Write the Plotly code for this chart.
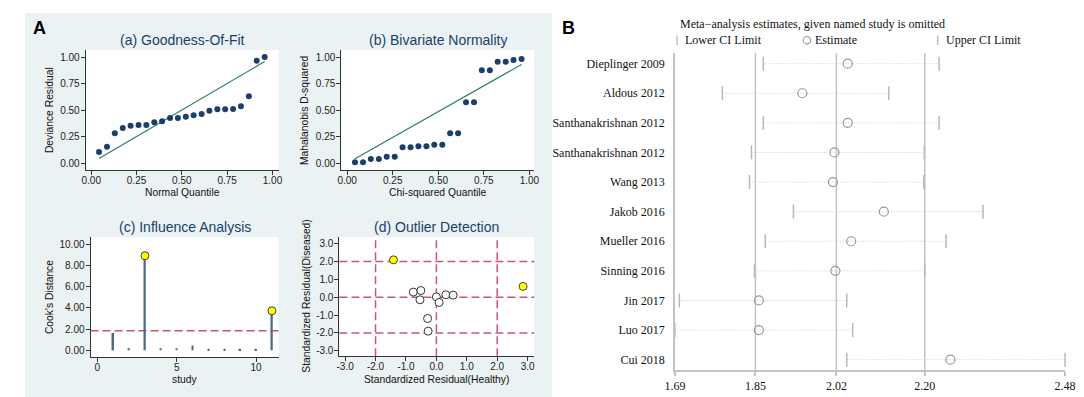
import plotly.graph_objects as go

W, H = 1084, 397

# ---------------- data ----------------
# (a) Goodness-of-fit
gof_quantile = [0.043, 0.087, 0.130, 0.174, 0.217, 0.261, 0.304, 0.348, 0.391, 0.435, 0.478,
                0.522, 0.565, 0.609, 0.652, 0.696, 0.739, 0.783, 0.826, 0.870, 0.913, 0.957]
gof_resid = [0.104, 0.154, 0.28, 0.33, 0.352, 0.358, 0.358, 0.384, 0.393, 0.425, 0.425,
             0.437, 0.45, 0.462, 0.494, 0.506, 0.506, 0.509, 0.535, 0.629, 0.965, 1.0]
gof_line_x = [0.043, 0.957]
gof_line_y = [0.043, 0.957]

# (b) Bivariate normality
bvn_quantile = gof_quantile
bvn_d2 = [0.006, 0.006, 0.038, 0.038, 0.06, 0.06, 0.148, 0.148, 0.157, 0.157, 0.173,
          0.173, 0.28, 0.28, 0.572, 0.572, 0.875, 0.875, 0.955, 0.955, 0.972, 0.982]
bvn_line_x = [0.043, 0.957]
bvn_line_y = [0.04, 0.93]

# (c) Influence analysis
study_idx = [1, 2, 3, 4, 5, 6, 7, 8, 9, 10, 11]
cooks_d = [1.63, 0.2, 8.9, 0.2, 0.2, 0.45, 0.15, 0.15, 0.15, 0.15, 3.72]
cooks_threshold = 1.85

# (d) Outlier detection
resid_healthy = [-1.41, -0.76, -0.51, -0.54, 0.0, 0.09, 0.31, 0.55, -0.29, -0.27, 2.85]
resid_diseased = [2.10, 0.29, 0.38, -0.14, 0.02, -0.29, 0.14, 0.12, -1.19, -1.90, 0.61]
outlier_refs = [-2, 0, 2]

# B: leave-one-out forest plot
studies = ["Dieplinger 2009", "Aldous 2012", "Santhanakrishnan 2012", "Santhanakrishnan 2012",
           "Wang 2013", "Jakob 2016", "Mueller 2016", "Sinning 2016", "Jin 2017", "Luo 2017", "Cui 2018"]
lower_ci = [1.869, 1.786, 1.869, 1.845, 1.841, 1.930, 1.873, 1.851, 1.699, 1.690, 2.038]
estimate = [2.040, 1.948, 2.040, 2.013, 2.010, 2.113, 2.047, 2.015, 1.860, 1.860, 2.248]
upper_ci = [2.225, 2.123, 2.225, 2.195, 2.194, 2.314, 2.239, 2.196, 2.038, 2.050, 2.480]
overall_ci = [1.853, 2.017, 2.196]
forest_ticks = [1.69, 1.853, 2.017, 2.196, 2.48]
forest_ticktext = ["1.69", "1.85", "2.02", "2.20", "2.48"]

# ---------------- styling ----------------
SANS = "Liberation Sans, Arial, sans-serif"
SERIF = "Liberation Serif, Times New Roman, serif"
NAVY = "#1a3f6b"
GREEN = "#2e7d64"
PINK = "#cc5577"
BG_A = "#EAF2F3"
GREY = "#c3c3c3"


def xd(a, b):
    return [a / W, b / W]


def yd(top, bottom):
    return [1 - bottom / H, 1 - top / H]


def px(x):
    return x / W


def py(y):
    return 1 - y / H


fig = go.Figure()

# (a)
fig.add_trace(go.Scatter(x=gof_line_x, y=gof_line_y, mode="lines",
                         line=dict(color=GREEN, width=1.2), xaxis="x", yaxis="y"))
fig.add_trace(go.Scatter(x=gof_quantile, y=gof_resid, mode="markers",
                         marker=dict(color=NAVY, size=6), xaxis="x", yaxis="y"))
# (b)
fig.add_trace(go.Scatter(x=bvn_line_x, y=bvn_line_y, mode="lines",
                         line=dict(color=GREEN, width=1.2), xaxis="x2", yaxis="y2"))
fig.add_trace(go.Scatter(x=bvn_quantile, y=bvn_d2, mode="markers",
                         marker=dict(color=NAVY, size=6), xaxis="x2", yaxis="y2"))
# (c)
fig.add_trace(go.Bar(x=study_idx, y=cooks_d, width=0.1, marker=dict(color="#47698c", line=dict(width=0)),
                     xaxis="x3", yaxis="y3"))
hi_x = [s for s, v in zip(study_idx, cooks_d) if v > cooks_threshold]
hi_y = [v for v in cooks_d if v > cooks_threshold]
fig.add_trace(go.Scatter(x=hi_x, y=hi_y, mode="markers",
                         marker=dict(color="#ffff00", size=8, line=dict(color="#444", width=1)),
                         xaxis="x3", yaxis="y3", cliponaxis=False))
# (d)
is_out = [abs(a) > 2 or abs(b) > 2 for a, b in zip(resid_healthy, resid_diseased)]
fig.add_trace(go.Scatter(x=[a for a, o in zip(resid_healthy, is_out) if not o],
                         y=[b for b, o in zip(resid_diseased, is_out) if not o],
                         mode="markers",
                         marker=dict(color="white", size=8, line=dict(color="#333", width=1)),
                         xaxis="x4", yaxis="y4"))
fig.add_trace(go.Scatter(x=[a for a, o in zip(resid_healthy, is_out) if o],
                         y=[b for b, o in zip(resid_diseased, is_out) if o],
                         mode="markers",
                         marker=dict(color="#ffff00", size=8, line=dict(color="#444", width=1)),
                         xaxis="x4", yaxis="y4"))

# B forest
rows = list(range(1, len(studies) + 1))
lx, ly = [], []
for r, lo, hi in zip(rows, lower_ci, upper_ci):
    lx += [lo, hi, None]
    ly += [r, r, None]
fig.add_trace(go.Scatter(x=lx, y=ly, mode="lines",
                         line=dict(color="#cfcfcf", width=1, dash="1px,1.5px"),
                         xaxis="x5", yaxis="y5", cliponaxis=False))
fig.add_trace(go.Scatter(x=lower_ci, y=rows, mode="markers",
                         marker=dict(symbol="line-ns", size=10, line=dict(color="#b8b8b8", width=1.5)),
                         xaxis="x5", yaxis="y5", cliponaxis=False))
fig.add_trace(go.Scatter(x=upper_ci, y=rows, mode="markers",
                         marker=dict(symbol="line-ns", size=10, line=dict(color="#b8b8b8", width=1.5)),
                         xaxis="x5", yaxis="y5", cliponaxis=False))
fig.add_trace(go.Scatter(x=estimate, y=rows, mode="markers",
                         marker=dict(symbol="circle-open", size=9, color="#999999", line=dict(width=1.2)),
                         xaxis="x5", yaxis="y5", cliponaxis=False))

# ---------------- axes ----------------
A_AX = dict(showline=True, linecolor="#333", linewidth=1, ticks="outside", ticklen=4,
            tickcolor="#333", tickwidth=1, showgrid=False, zeroline=False,
            tickfont=dict(family=SANS, size=10, color="#222"))
A_X = dict(A_AX, ticklabelstandoff=-3)
A_Y = dict(A_AX, ticklabelstandoff=-1)

q_ticks = [0, 0.25, 0.5, 0.75, 1.0]
q_text = ["0.00", "0.25", "0.50", "0.75", "1.00"]
c_yticks = [0, 2, 4, 6, 8, 10]
c_ytext = ["0.00", "2.00", "4.00", "6.00", "8.00", "10.00"]
d_ticks = [-3, -2, -1, 0, 1, 2, 3]
d_text = ["-3.0", "-2.0", "-1.0", "0.0", "1.0", "2.0", "3.0"]

fig.update_layout(
    xaxis=dict(A_X, domain=xd(68, 265), range=[-0.031, 1.034], tickvals=q_ticks, ticktext=q_text, anchor="y"),
    yaxis=dict(A_Y, domain=yd(42, 162), range=[-0.066, 1.066], tickvals=q_ticks, ticktext=q_text, anchor="x"),
    xaxis2=dict(A_X, domain=xd(329, 526), range=[-0.032, 1.027], tickvals=q_ticks, ticktext=q_text, anchor="y2"),
    yaxis2=dict(A_Y, domain=yd(42, 162), range=[-0.066, 1.066], tickvals=q_ticks, ticktext=q_text, anchor="x2"),
    xaxis3=dict(A_X, domain=xd(73, 265), range=[-0.43, 11.42], tickvals=[0, 5, 10], ticktext=["0", "5", "10"], anchor="y3"),
    yaxis3=dict(A_Y, domain=yd(229, 349), range=[-0.63, 10.66], tickvals=c_yticks, ticktext=c_ytext, anchor="x3"),
    xaxis4=dict(A_X, domain=xd(327, 526), range=[-3.19, 3.22], tickvals=d_ticks, ticktext=d_text, anchor="y4"),
    yaxis4=dict(A_Y, domain=yd(229, 348.3), range=[-3.31, 3.38], tickvals=d_ticks, ticktext=d_text, anchor="x4"),
    xaxis5=dict(domain=xd(669.5, 1067.7), range=[1.69, 2.48], tickvals=forest_ticks, ticktext=forest_ticktext,
                showline=True, linecolor=GREY, linewidth=1.5, ticks="outside", ticklen=4, tickcolor=GREY,
                tickwidth=1.5, showgrid=False, zeroline=False, anchor="y5",
                tickfont=dict(family=SERIF, size=12, color="#111")),
    yaxis5=dict(domain=yd(45, 362.3), range=[11.36, 0.64], tickvals=rows, ticktext=studies,
                showline=True, linecolor=GREY, linewidth=1.5, ticks="", showgrid=False, zeroline=False,
                anchor="x5", ticklabelstandoff=6,
                tickfont=dict(family=SERIF, size=12, color="#111")),
)

# ---------------- shapes ----------------
shapes = [
    dict(type="rect", xref="paper", yref="paper", x0=px(6), x1=px(544), y0=py(392), y1=py(5),
         fillcolor=BG_A, line=dict(width=0), layer="below"),
]
for (x0, x1, y0, y1) in [(68, 265, 42, 162), (329, 526, 42, 162), (73, 265, 229, 349), (327, 526, 229, 348.3)]:
    shapes.append(dict(type="rect", xref="paper", yref="paper", x0=px(x0), x1=px(x1), y0=py(y1), y1=py(y0),
                       fillcolor="white", line=dict(width=0), layer="below"))
# threshold in (c)
shapes.append(dict(type="line", xref="x3 domain", yref="y3", x0=0, x1=1, y0=cooks_threshold, y1=cooks_threshold,
                   line=dict(color=PINK, width=1.5, dash="8px,4px"), layer="below"))
# reference lines in (d)
for v in outlier_refs:
    shapes.append(dict(type="line", xref="x4 domain", yref="y4", x0=0, x1=1, y0=v, y1=v,
                       line=dict(color=PINK, width=1.5, dash="8px,4px"), layer="below"))
    shapes.append(dict(type="line", xref="x4", yref="y4 domain", x0=v, x1=v, y0=0, y1=1,
                       line=dict(color=PINK, width=1.5, dash="8px,4px"), layer="below"))
# overall CI lines in B
for v in overall_ci:
    shapes.append(dict(type="line", xref="x5", yref="y5 domain", x0=v, x1=v, y0=0, y1=1,
                       line=dict(color=GREY, width=1.5), layer="below"))
# legend glyphs for B
shapes.append(dict(type="line", xref="paper", yref="paper", x0=px(671.7), x1=px(671.7), y0=py(37), y1=py(27.5),
                   line=dict(color="#c0c0c0", width=1.5)))
shapes.append(dict(type="line", xref="paper", yref="paper", x0=px(937.7), x1=px(937.7), y0=py(37), y1=py(27.5),
                   line=dict(color="#c0c0c0", width=1.5)))
shapes.append(dict(type="circle", xref="paper", yref="paper", x0=px(800.5), x1=px(808.1), y0=py(36.1), y1=py(28.5),
                   line=dict(color="#999999", width=1.1)))

# ---------------- annotations ----------------
ann = []


def text(x, y, s, size, color="#111", family=SANS, xanchor="center", angle=0, bold=False):
    if bold:
        s = "<b>" + s + "</b>"
    ann.append(dict(x=px(x), y=py(y), xref="paper", yref="paper", text=s, showarrow=False,
                    xanchor=xanchor, yanchor="middle", textangle=angle,
                    font=dict(family=family, size=size, color=color)))


text(12.5, 19.7, "A", 18, "#000", xanchor="left", bold=True)
text(552.5, 19.7, "B", 18, "#000", xanchor="left", bold=True)

text(166.5, 32, "(a) Goodness-Of-Fit", 14, NAVY)
text(427.5, 32, "(b) Bivariate Normality", 14, NAVY)
text(169, 219, "(c) Influence Analysis", 14, NAVY)
text(426.5, 219.3, "(d) Outlier Detection", 14, NAVY)

text(166.5, 184, "Normal Quantile", 10.3)
text(427.5, 184, "Chi-squared Quantile", 10.3)
text(169, 371, "study", 10.3)
text(426.5, 371.5, "Standardized Residual(Healthy)", 10.3)
text(30.7, 102, "Deviance Residual", 10.3, angle=-90)
text(291, 102, "Mahalanobis D-squared", 10.3, angle=-90)
text(30.7, 289, "Cook's Distance", 10.3, angle=-90)
text(294, 288.6, "Standardized Residual(Diseased)", 10.3, angle=-90)

text(672.7, 15.7, "Meta\u2212analysis estimates, given named study is omitted", 12, "#111", SERIF, "left")
text(678, 32.3, "Lower CI Limit", 12, "#111", SERIF, "left")
text(810.7, 32.3, "Estimate", 12, "#111", SERIF, "left")
text(944, 32.3, "Upper CI Limit", 12, "#111", SERIF, "left")

fig.update_layout(
    width=W, height=H, margin=dict(l=0, r=0, t=0, b=0),
    paper_bgcolor="white", plot_bgcolor="white",
    showlegend=False, shapes=shapes, annotations=ann,
)

fig.write_html("out.html")
